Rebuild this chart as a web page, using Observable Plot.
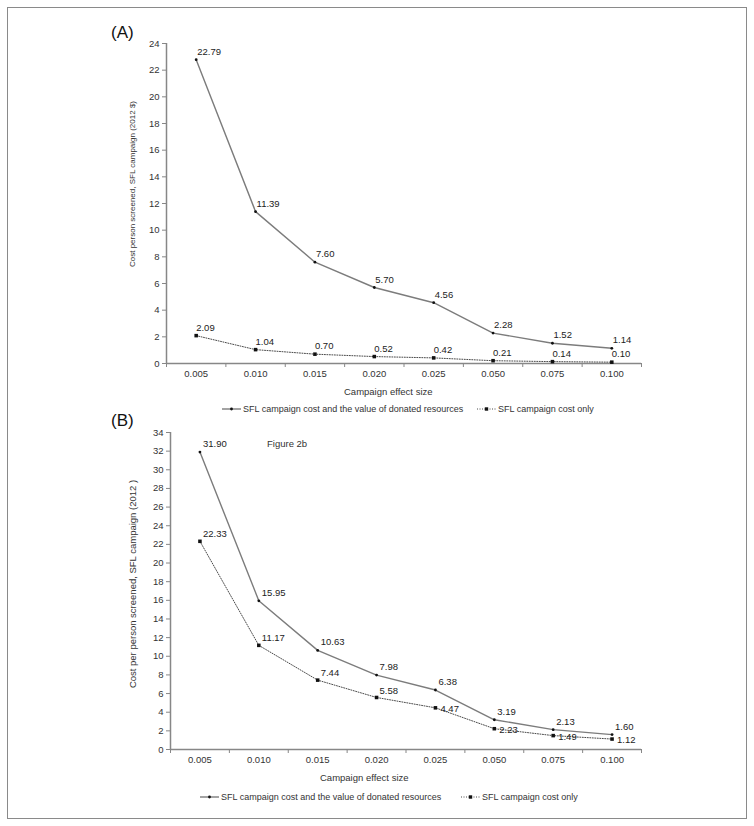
<!DOCTYPE html>
<html>
<head>
<meta charset="utf-8">
<script src="https://cdn.jsdelivr.net/npm/d3@7"></script>
<script src="https://cdn.jsdelivr.net/npm/@observablehq/plot@0.6"></script>
<style>
  html, body { margin: 0; padding: 0; background: #fff; }
  #root { position: relative; width: 754px; height: 826px; background: #fff; font-family: "Liberation Sans", Arial, sans-serif; color: #333; }
  .abs { position: absolute; white-space: nowrap; line-height: 1; }
  .frame { position: absolute; left: 7px; top: 7px; width: 738px; height: 810px; border: 1.5px solid #8a8a8a; }
  .panel-letter { font-size: 17px; color: #111; }
  .small { font-size: 9.5px; color: #333; }
  .legend { font-size: 9px; color: #333; }
  .legend-item { display: flex; align-items: center; gap: 2px; }
  .ytitle { transform: translate(-50%, -50%) rotate(-90deg); transform-origin: center; }
</style>
</head>
<body>
<div id="root">
  <div class="frame"></div>
</div>
<script>
// ---- data ----
const categories = ["0.005", "0.010", "0.015", "0.020", "0.025", "0.050", "0.075", "0.100"];
const aDonated  = [22.79, 11.39, 7.60, 5.70, 4.56, 2.28, 1.52, 1.14];
const aCostOnly = [2.09, 1.04, 0.70, 0.52, 0.42, 0.21, 0.14, 0.10];
const bDonated  = [31.90, 15.95, 10.63, 7.98, 6.38, 3.19, 2.13, 1.60];
const bCostOnly = [22.33, 11.17, 7.44, 5.58, 4.47, 2.23, 1.49, 1.12];
const yTicksA = [0, 2, 4, 6, 8, 10, 12, 14, 16, 18, 20, 22, 24];
const yTicksB = [0, 2, 4, 6, 8, 10, 12, 14, 16, 18, 20, 22, 24, 26, 28, 30, 32, 34];
const seriesNames = ["SFL campaign cost and the value of donated resources", "SFL campaign cost only"];
const xTitle = "Campaign effect size";
const yTitleA = "Cost person screened, SFL campaign (2012 $)";
const yTitleB = "Cost per person screened, SFL campaign (2012 )";

const root = document.getElementById("root");
const AXIS = "#878787";
const FONT = "Liberation Sans, Arial, sans-serif";

function rows(values) {
  return values.map((v, i) => ({i, cat: categories[i], v}));
}

// label placement: [dx, dy] for the first points, and (optionally) a different
// [dx, dy] from index `split` onward (Excel-style manual label nudges)
function labelMarks(data, place) {
  const fmt = d => d.v.toFixed(2);
  const base = {x: "i", y: "v", text: fmt, textAnchor: "start", fill: "#222", fontSize: 9.5};
  if (place.split == null) {
    return [Plot.text(data, {...base, dx: place.a[0], dy: place.a[1]})];
  }
  return [
    Plot.text(data.filter(d => d.i < place.split), {...base, dx: place.a[0], dy: place.a[1]}),
    Plot.text(data.filter(d => d.i >= place.split), {...base, dx: place.b[0], dy: place.b[1]})
  ];
}

function panel(opts) {
  const d1 = rows(opts.donated), d2 = rows(opts.costOnly);
  const n = categories.length;
  const bandEdges = d3.range(n + 1).map(k => k - 0.5);
  return Plot.plot({
    width: 754,
    height: opts.height,
    marginLeft: opts.left,
    marginRight: opts.right,
    marginTop: opts.top,
    marginBottom: opts.bottom,
    style: {fontFamily: FONT, fontSize: "9.5px", background: "transparent", overflow: "visible"},
    x: {type: "linear", domain: [-0.5, n - 0.5], axis: null},
    y: {domain: [0, opts.yMax], axis: null},
    marks: [
      Plot.ruleY([0], {stroke: AXIS, strokeWidth: 1.5}),
      Plot.ruleX([-0.5], {stroke: AXIS, strokeWidth: 1.5}),
      Plot.axisY(opts.yTicks, {tickSize: 4, tickPadding: 3, stroke: AXIS, fill: "#333", label: null, fontSize: 9.5}),
      Plot.axisX(bandEdges, {tickSize: 4, tickFormat: () => "", stroke: AXIS, label: null}),
      Plot.axisX(d3.range(n), {tickSize: 0, tickPadding: 7, tickFormat: i => categories[i], fill: "#333", label: null, fontSize: 9.5}),
      Plot.line(d2, {x: "i", y: "v", stroke: "#4a4a4a", strokeWidth: 1, strokeDasharray: "1,1.5"}),
      Plot.line(d1, {x: "i", y: "v", stroke: "#7c7c7c", strokeWidth: 1.4}),
      Plot.dot(d2, {x: "i", y: "v", symbol: "square", r: 2, fill: "#111", stroke: "none"}),
      Plot.dot(d1, {x: "i", y: "v", r: 1.4, fill: "#111", stroke: "none"}),
      ...labelMarks(d1, opts.l1),
      ...labelMarks(d2, opts.l2)
    ]
  });
}

function place(el, left, top) {
  const w = document.createElement("div");
  w.className = "abs";
  w.style.left = left + "px";
  w.style.top = top + "px";
  w.appendChild(el);
  root.appendChild(w);
  return w;
}

function text(str, cls, left, top) {
  const d = document.createElement("div");
  d.className = "abs " + cls;
  d.textContent = str;
  d.style.left = left + "px";
  d.style.top = top + "px";
  root.appendChild(d);
  return d;
}

function legendSample(dotted) {
  const ns = "http://www.w3.org/2000/svg";
  const s = document.createElementNS(ns, "svg");
  s.setAttribute("width", 19); s.setAttribute("height", 8);
  const l = document.createElementNS(ns, "line");
  l.setAttribute("x1", 0); l.setAttribute("x2", 19); l.setAttribute("y1", 4); l.setAttribute("y2", 4);
  l.setAttribute("stroke", dotted ? "#4a4a4a" : "#7c7c7c");
  l.setAttribute("stroke-width", dotted ? 1 : 1.4);
  if (dotted) l.setAttribute("stroke-dasharray", "1,1.5");
  s.appendChild(l);
  if (dotted) {
    const r = document.createElementNS(ns, "rect");
    r.setAttribute("x", 7.8); r.setAttribute("y", 2.3); r.setAttribute("width", 3.4); r.setAttribute("height", 3.4); r.setAttribute("fill", "#111");
    s.appendChild(r);
  } else {
    const c = document.createElementNS(ns, "circle");
    c.setAttribute("cx", 9.5); c.setAttribute("cy", 4); c.setAttribute("r", 1.4); c.setAttribute("fill", "#111");
    s.appendChild(c);
  }
  return s;
}

function legendItem(name, dotted, left, centerY) {
  const d = document.createElement("div");
  d.className = "abs legend legend-item";
  d.style.left = left + "px";
  d.style.top = (centerY - 5) + "px";
  d.style.height = "10px";
  d.appendChild(legendSample(dotted));
  const t = document.createElement("span");
  t.textContent = name;
  d.appendChild(t);
  root.appendChild(d);
}

// ---- Panel A ----
const pa = panel({donated: aDonated, costOnly: aCostOnly, yTicks: yTicksA, yMax: 24,
  height: 380, left: 166, right: 113, top: 43, bottom: 17,
  l1: {a: [1, -8]}, l2: {a: [0, -8]}});
place(pa, 0, 0);
text("(A)", "panel-letter", 111, 24);
text(xTitle, "small", 344, 387);
legendItem(seriesNames[0], false, 222, 409);
legendItem(seriesNames[1], true, 477, 409);
const ya = text(yTitleA, "small ytitle", 133, 184);
ya.style.fontSize = "8px";

// ---- Panel B ----
const pb = panel({donated: bDonated, costOnly: bCostOnly, yTicks: yTicksB, yMax: 34,
  height: 376, left: 170, right: 113, top: 42, bottom: 17,
  l1: {a: [3, -8]}, l2: {a: [3, -7], split: 4, b: [5, 1]}});
place(pb, 0, 390);
text("(B)", "panel-letter", 111, 412);
text("Figure 2b", "small", 267, 439);
text(xTitle, "small", 320, 773);
legendItem(seriesNames[0], false, 200, 797);
legendItem(seriesNames[1], true, 461, 797);
text(yTitleB, "small ytitle", 133, 584);
</script>
</body>
</html>
